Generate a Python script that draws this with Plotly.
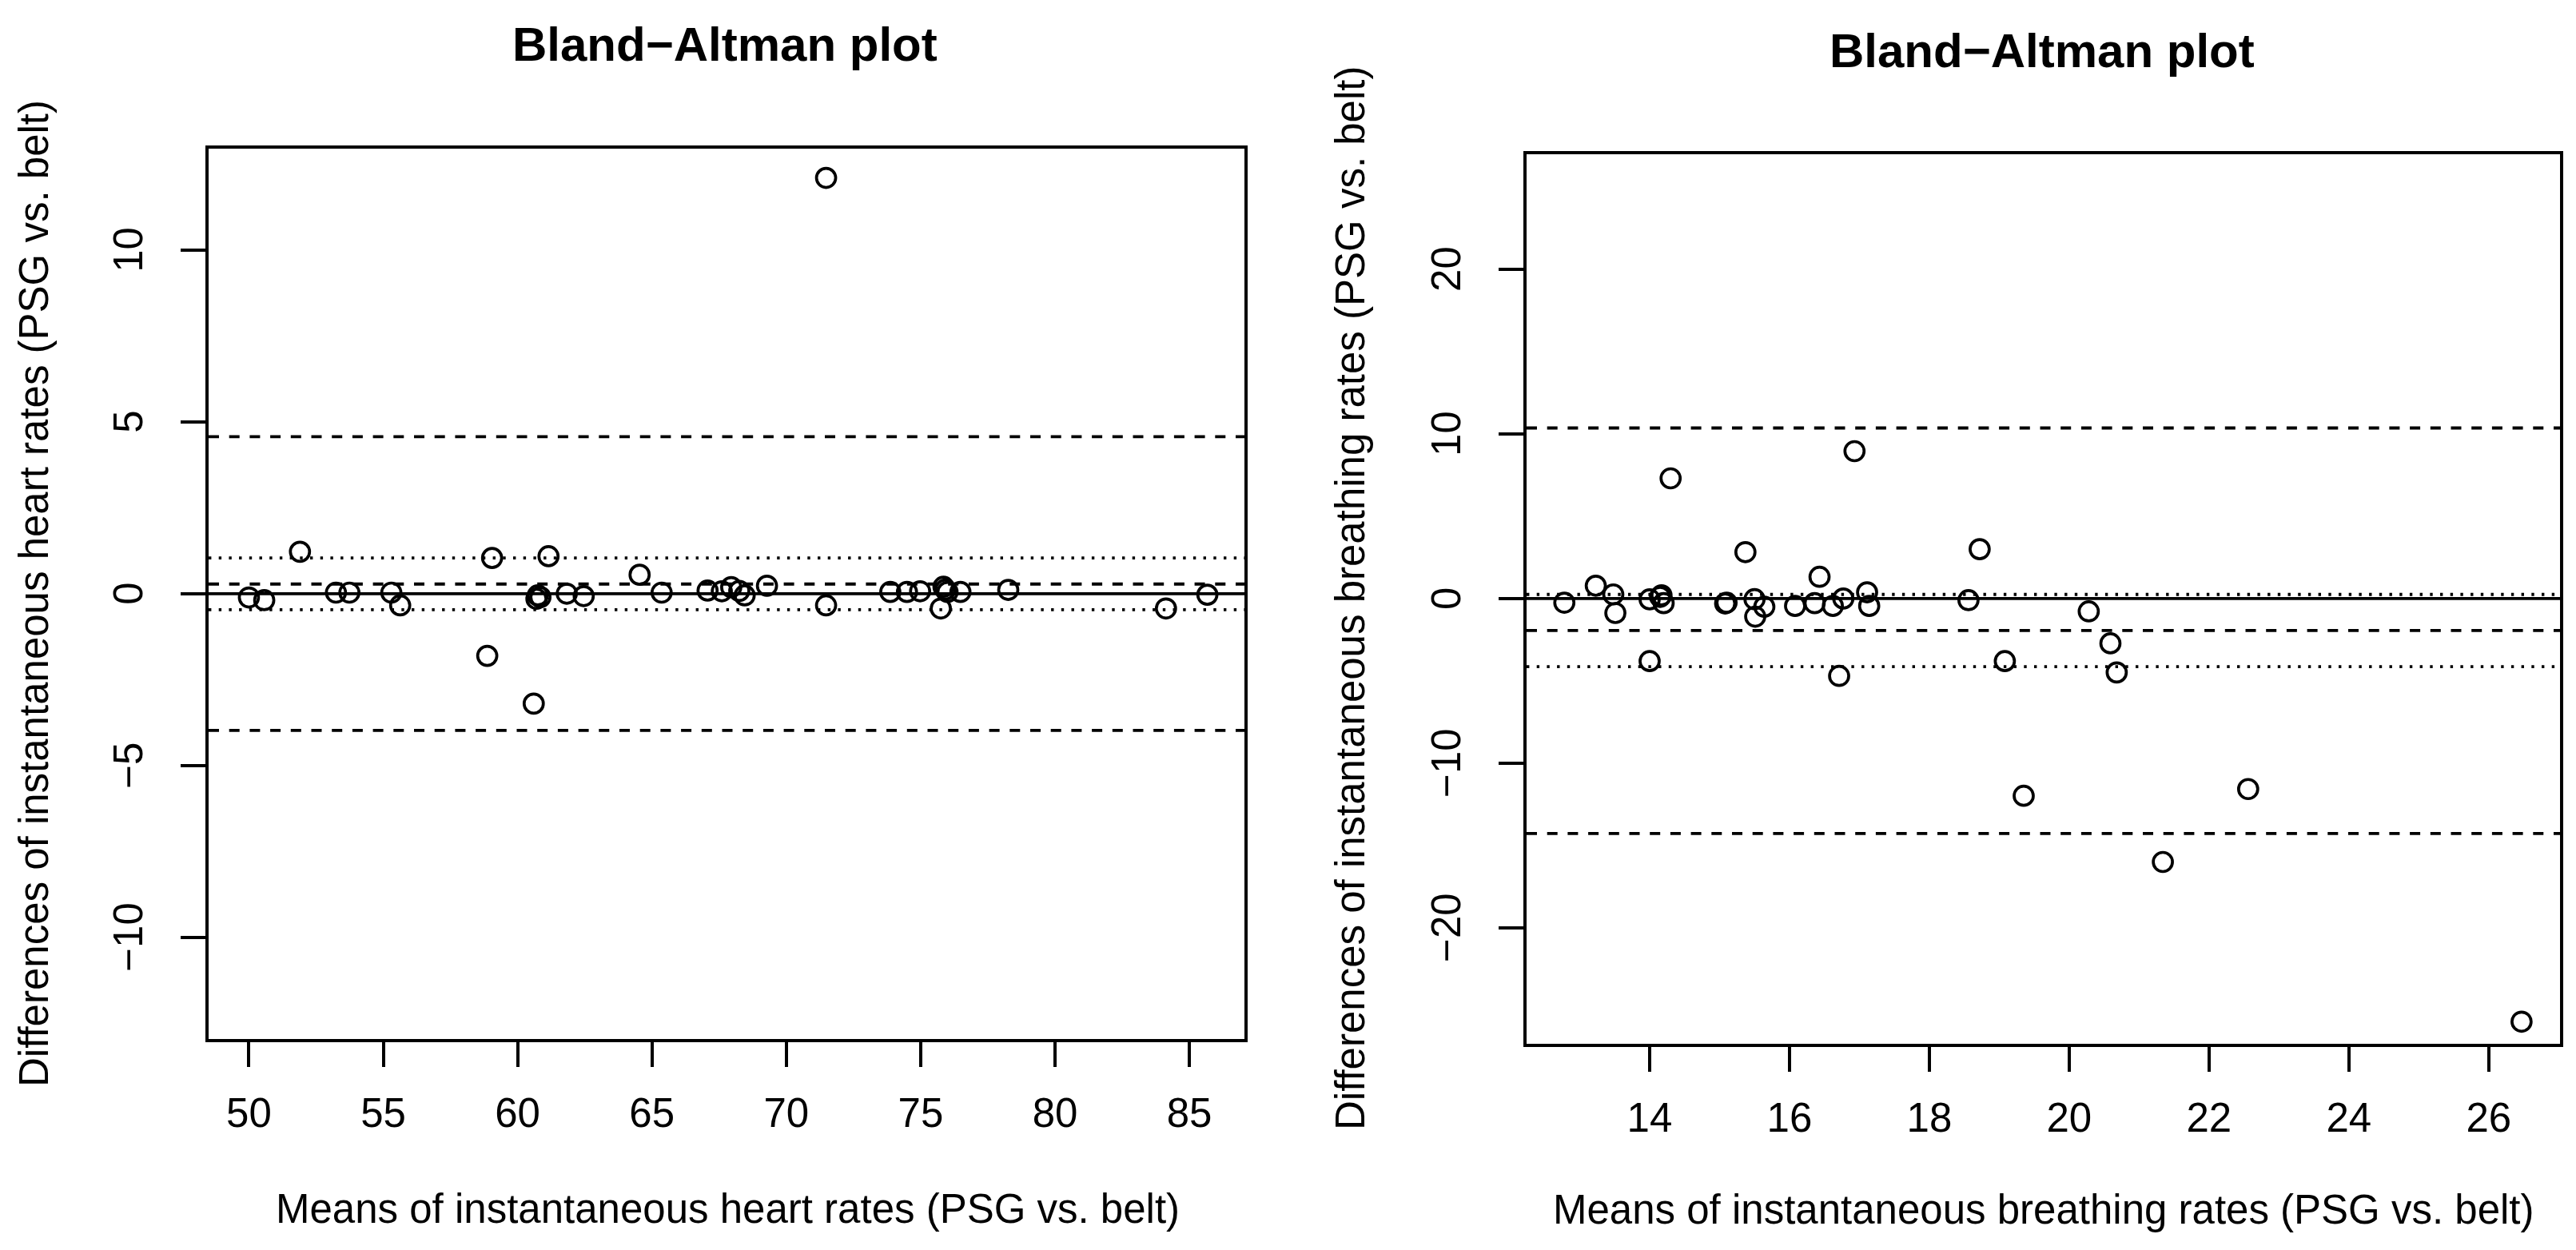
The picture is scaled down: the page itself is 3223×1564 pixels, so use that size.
import plotly.graph_objects as go

W, H = 3223, 1564

# ---------------- data: heart rates (left) ----------------
hr_mean = [50.0, 50.57, 51.9, 53.24, 53.74, 55.3, 55.63, 58.87, 59.05, 60.6,
           60.7, 60.75, 60.85, 61.15, 61.83, 62.46, 64.54, 65.36, 67.07, 67.6,
           67.95, 68.25, 68.45, 69.28, 71.48, 71.48, 73.87, 74.49, 74.98, 75.75,
           75.85, 75.92, 76.0, 76.48, 78.26, 84.13, 85.67]
hr_diff = [-0.11, -0.19, 1.22, 0.03, 0.03, 0.03, -0.34, -1.81, 1.04, -3.2,
           -0.15, -0.05, -0.1, 1.09, 0.0, -0.07, 0.55, 0.03, 0.09, 0.07,
           0.19, 0.08, -0.05, 0.23, -0.34, 12.1, 0.05, 0.05, 0.07, -0.43,
           0.2, 0.12, 0.05, 0.05, 0.11, -0.43, -0.03]
hr_dashed = [4.57, 0.28, -3.98]
hr_dotted = [1.04, -0.465]
hr_xticks = [50, 55, 60, 65, 70, 75, 80, 85]
hr_yticks = [-10, -5, 0, 5, 10]
hr_xrange = [48.5, 87.05]
hr_yrange = [-12.96, 12.96]

# ---------------- data: breathing rates (right) ----------------
br_mean = [12.78, 13.23, 13.48, 13.51, 14.0, 14.0, 14.15, 14.17, 14.2, 14.3,
           15.08, 15.1, 15.37, 15.5, 15.51, 15.64, 16.08, 16.36, 16.43, 16.62,
           16.77, 16.71, 16.93, 17.11, 17.14, 18.56, 18.72, 19.08, 19.35, 20.28,
           20.59, 20.68, 21.34, 22.56, 26.47]
br_diff = [-0.25, 0.78, 0.25, -0.88, -0.05, -3.8, 0.1, 0.2, -0.28, 7.3,
           -0.3, -0.25, 2.82, -0.04, -1.1, -0.5, -0.45, -0.28, 1.32, -0.45,
           0.0, -4.7, 8.95, 0.38, -0.45, -0.1, 3.0, -3.8, -11.98, -0.78,
           -2.72, -4.49, -16.0, -11.57, -25.7]
br_dashed = [10.36, -1.94, -14.27]
br_dotted = [0.25, -4.14]
br_xticks = [14, 16, 18, 20, 22, 24, 26]
br_yticks = [-20, -10, 0, 10, 20]
br_xrange = [12.24, 27.02]
br_yrange = [-27.03, 27.0]

title_text = "Bland\u2212Altman plot"
hr_xlabel = "Means of instantaneous heart rates (PSG vs. belt)"
hr_ylabel = "Differences of instantaneous heart rates (PSG vs. belt)"
br_xlabel = "Means of instantaneous breathing rates (PSG vs. belt)"
br_ylabel = "Differences of instantaneous breathing rates (PSG vs. belt)"

FONT = "Liberation Sans, Arial, Helvetica, sans-serif"
LW = 3.8

# pixel geometry of the two plot boxes
L_box = dict(x0=253, x1=1549, y0=177.6, y1=1292)
R_box = dict(x0=1902, x1=3195, y0=184.7, y1=1297.7)

def px(x):
    return x / W

def py(y):
    return 1 - y / H

fig = go.Figure()

marker_style = dict(symbol="circle-open", size=24, color="black",
                    line=dict(width=3.7, color="black"))
fig.add_trace(go.Scatter(
    x=hr_mean, y=hr_diff, mode="markers", xaxis="x", yaxis="y",
    marker=marker_style, showlegend=False, hoverinfo="x+y"))
fig.add_trace(go.Scatter(
    x=br_mean, y=br_diff, mode="markers", xaxis="x2", yaxis="y2",
    marker=marker_style, showlegend=False, hoverinfo="x+y"))

shapes = []
def hline(xref, yref, val, dash):
    shapes.append(dict(type="line", xref=xref + " domain", yref=yref,
                       x0=0, x1=1, y0=val, y1=val,
                       line=dict(color="black", width=LW, dash=dash),
                       layer="above"))

DASHED = "13px,12.7px"
DOTTED = "3.4px,9.3px"
hline("x", "y", 0, "solid")
for v in hr_dashed:
    hline("x", "y", v, DASHED)
for v in hr_dotted:
    hline("x", "y", v, DOTTED)
hline("x2", "y2", 0, "solid")
for v in br_dashed:
    hline("x2", "y2", v, DASHED)
for v in br_dotted:
    hline("x2", "y2", v, DOTTED)

def axis_common(**kw):
    d = dict(showgrid=False, zeroline=False, showline=True, mirror=True,
             linecolor="black", linewidth=LW, ticks="outside", ticklen=31,
             tickwidth=LW, tickcolor="black",
             tickfont=dict(family=FONT, size=51, color="black"))
    d.update(kw)
    return d

annotations = []
def ann(x, y, text, size, bold=False, angle=0):
    annotations.append(dict(
        x=px(x), y=py(y), xref="paper", yref="paper", showarrow=False,
        text=("<b>%s</b>" % text) if bold else text, textangle=angle,
        xanchor="center", yanchor="middle",
        font=dict(family=FONT, size=size, color="black")))

ann(899, 48, title_text, 60, bold=True)
ann(2547, 56, title_text, 60, bold=True)
ann(903, 1504, hr_xlabel, 51)
ann(2549, 1505, br_xlabel, 51)
ann(34, 735, hr_ylabel, 51, angle=-90)
ann(1681, 741, br_ylabel, 51, angle=-90)

# rotated y tick labels (R style, parallel to the axis), placed on the y scale
def ytick_labels(vals, yref, xpix):
    for v in vals:
        lab = str(v).replace("-", "\u2212")
        annotations.append(dict(
            x=px(xpix), y=v, xref="paper", yref=yref, showarrow=False,
            text=lab, textangle=-90, xanchor="center", yanchor="middle",
            font=dict(family=FONT, size=51, color="black")))

ytick_labels(hr_yticks, "y", 153)
ytick_labels(br_yticks, "y2", 1802)

fig.update_layout(
    width=W, height=H,
    margin=dict(l=0, r=0, t=0, b=0),
    paper_bgcolor="white", plot_bgcolor="white",
    font=dict(family=FONT, color="black"),
    xaxis=axis_common(domain=[px(L_box["x0"]), px(L_box["x1"])],
                      range=hr_xrange, tickvals=hr_xticks, anchor="y",
                      ticklabelstandoff=14),
    yaxis=axis_common(domain=[py(L_box["y1"]), py(L_box["y0"])],
                      range=hr_yrange, tickvals=hr_yticks, anchor="x",
                      showticklabels=False),
    xaxis2=axis_common(domain=[px(R_box["x0"]), px(R_box["x1"])],
                       range=br_xrange, tickvals=br_xticks, anchor="y2",
                       ticklabelstandoff=14),
    yaxis2=axis_common(domain=[py(R_box["y1"]), py(R_box["y0"])],
                       range=br_yrange, tickvals=br_yticks, anchor="x2",
                       showticklabels=False),
    shapes=shapes,
    annotations=annotations,
)

fig.write_html("out.html")
